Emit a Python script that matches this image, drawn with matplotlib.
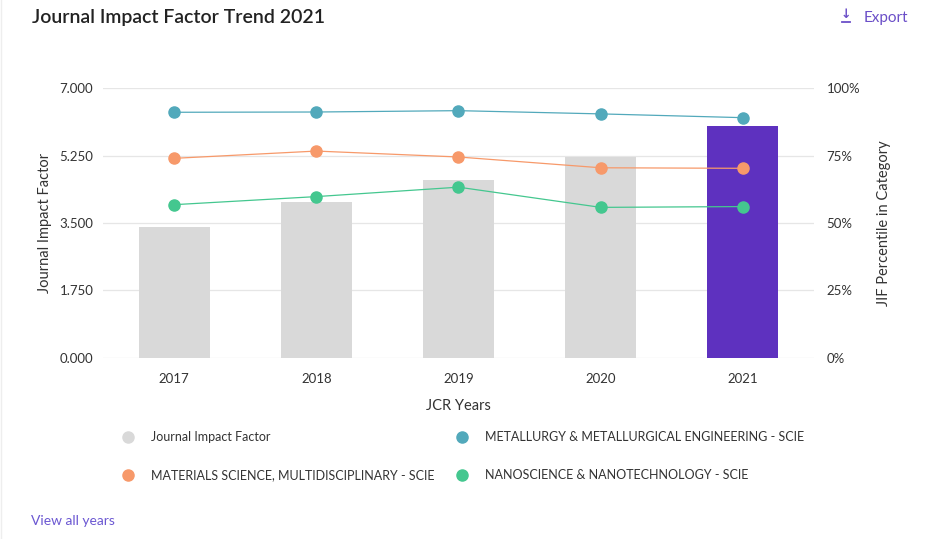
import matplotlib
matplotlib.use("Agg")
import matplotlib.pyplot as plt
from matplotlib.lines import Line2D
from matplotlib.ticker import FuncFormatter

plt.rcParams['font.family'] = ['Lato', 'DejaVu Sans']

# data
years = ['2017', '2018', '2019', '2020', '2021']
jif = [3.39, 4.05, 4.63, 5.21, 6.03]
metallurgy = [91.1, 91.2, 91.7, 90.5, 89.1]
materials = [74.0, 76.7, 74.5, 70.5, 70.3]
nano = [56.8, 59.8, 63.3, 55.8, 56.1]
jif_ticks = [0.0, 1.75, 3.5, 5.25, 7.0]
pct_ticks = [0, 25, 50, 75, 100]

grey = '#d9d9d9'
purple = '#5e31bf'
blue = '#52a9bb'
orange = '#f7996a'
green = '#44c78f'
txt = '#333333'
grid = '#e6e6e6'
link = '#6b4fc8'

fig = plt.figure(figsize=(9.29, 5.39), dpi=100)
ax = fig.add_axes([103/929, 1-357.7/539, 711/929, 269.4/539])

x = list(range(len(years)))
barcols = [grey]*(len(years)-1) + [purple]
ax.bar(x, jif, width=0.5, color=barcols, zorder=2)
ax.set_xlim(-0.5, len(years)-0.5)
ax.set_ylim(0, 7)
ax.set_yticks(jif_ticks)
ax.yaxis.set_major_formatter(FuncFormatter(lambda v, p: '%.3f' % v))
ax.set_xticks(x)
ax.set_xticklabels(years)
ax.grid(axis='y', color=grid, lw=0.9, zorder=0)
ax.set_axisbelow(True)
for s in ax.spines.values():
    s.set_visible(False)
ax.tick_params(length=0, labelsize=9.5, colors=txt, pad=7)
ax.tick_params(axis='x', pad=11)
ax.set_ylabel('Journal Impact Factor', fontsize=10.5, color=txt, labelpad=5)
ax.set_xlabel('JCR Years', fontsize=10.5, color=txt, labelpad=10)

ax2 = ax.twinx()
ax2.set_ylim(0, 100)
ax2.set_yticks(pct_ticks)
ax2.yaxis.set_major_formatter(FuncFormatter(lambda v, p: '%d%%' % v))
for s in ax2.spines.values():
    s.set_visible(False)
ax2.tick_params(length=0, labelsize=9.5, colors=txt, pad=9)
ax2.set_ylabel('JIF Percentile in Category', fontsize=10.5, color=txt, labelpad=12)

for vals, c in [(metallurgy, blue), (materials, orange), (nano, green)]:
    ax2.plot(x, vals, color=c, lw=0.9, marker='o', markersize=8, zorder=3)

handles = [
    Line2D([], [], ls='', marker='o', markersize=8, color=grey),
    Line2D([], [], ls='', marker='o', markersize=8, color=orange),
    Line2D([], [], ls='', marker='o', markersize=8, color=blue),
    Line2D([], [], ls='', marker='o', markersize=8, color=green),
]
labels = ['Journal Impact Factor',
          'MATERIALS SCIENCE, MULTIDISCIPLINARY - SCIE',
          'METALLURGY & METALLURGICAL ENGINEERING - SCIE',
          'NANOSCIENCE & NANOTECHNOLOGY - SCIE']
leg = fig.legend(handles, labels, ncol=2, loc='upper left',
                 bbox_to_anchor=(109/929, 1-420/539), frameon=False,
                 fontsize=9, labelspacing=2.05, columnspacing=1.6,
                 handletextpad=1.25, handlelength=1.2, labelcolor=txt)

fig.text(32/929, 1-18/539, 'Journal Impact Factor Trend 2021', fontsize=14,
         fontweight='semibold', color='#222222', va='center', ha='left')
fig.text(908/929, 1-18/539, 'Export', fontsize=11, color=link,
         va='center', ha='right')
fig.text(846/929, 1-15/539, '\u2193', fontsize=9, color=link, fontweight='bold',
         va='center', ha='center', family=['DejaVu Sans'])
fig.add_artist(Line2D([842/929, 850/929], [1-22/539, 1-22/539], color=link, lw=1.3))
fig.text(31/929, 1-521/539, 'View all years', fontsize=10, color='#6b57d2',
         va='center', ha='left')
fig.add_artist(Line2D([1/929, 1/929], [0, 1], color='#eeeeee', lw=1))

fig.savefig('out.png', dpi=100, facecolor='white')
